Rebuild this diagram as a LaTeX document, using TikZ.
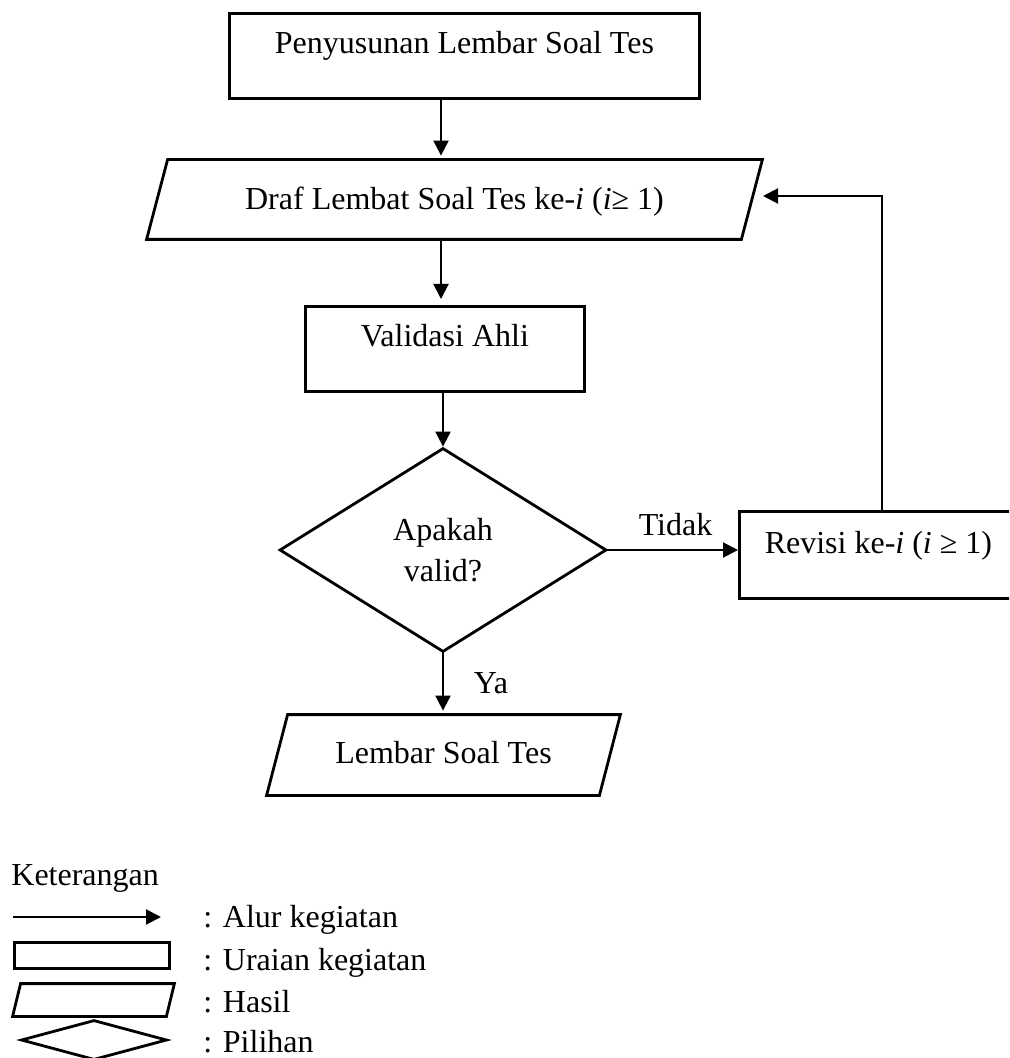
\documentclass[tikz,border=0pt]{standalone}
\usepackage{fontspec}
\setmainfont{Liberation Serif}
\usetikzlibrary{arrows.meta,calc}
\newcommand\parashape[2]{\draw[shapeline] ($(#1.north west)+(#2,0)$) -- (#1.north east) -- ($(#1.south east)-(#2,0)$) -- (#1.south west) -- cycle;}
\newcommand\diashape[1]{\draw[shapeline] (#1.north) -- (#1.east) -- (#1.south) -- (#1.west) -- cycle;}
\begin{document}
\begin{tikzpicture}[x=0.5pt,y=-0.5pt,
  every node/.style={font=\fontsize{16pt}{20.5pt}\selectfont, inner sep=0pt},
  shapeline/.style={draw=black, line width=1.4pt},
  conn/.style={line width=1pt, -{Triangle[length=7.5pt,width=7.5pt]}},
  boxnode/.style={shapeline, anchor=north west, text height=20pt, text depth=22.5pt},
]
\useasboundingbox (0,0) rectangle (1009,1058);
\clip (0,0) rectangle (1009,1058);

% main flow
\node[boxnode, minimum width=235pt] (s1) at (228,12) {Penyusunan Lembar Soal Tes};
\node[minimum width=307.5pt, minimum height=39.5pt, text height=12.5pt, text depth=2pt] (draf) at (454.5,199.5) {Draf Lembat Soal Tes ke-\textit{i} (\textit{i}≥ 1)};
\parashape{draf}{21}
\node[boxnode, minimum width=139.5pt] (val) at (304,305) {Validasi Ahli};
\node[minimum width=162.5pt, minimum height=101pt, align=center] (dec) at (443,550) {Apakah\\valid?};
\diashape{dec}
\node[boxnode, minimum width=139pt, text height=21pt] (rev) at (738,510) {Revisi ke-\textit{i} (\textit{i} ≥ 1)};
\node[minimum width=176.5pt, minimum height=40pt, text height=11pt, text depth=3pt] (hasil) at (443.5,755) {Lembar Soal Tes};
\parashape{hasil}{21}

% connectors
\coordinate (col) at (441,0);
\draw[conn, shorten >=2pt] (s1.south -| col) -- (draf.north -| col);
\draw[conn, shorten >=3pt] (draf.south -| col) -- (val.north -| col);
\draw[conn, shorten >=1pt] (val.south -| dec.north) -- (dec.north);
\draw[conn, shorten >=2pt] (dec.south) -- (hasil.north -| dec.south);
\draw[conn] (dec.east) -- (rev.west |- dec.east);
\coordinate (bk) at (882,196);
\coordinate (back) at (763,196);
\draw[conn] (rev.north -| bk) -- (bk) -- (back);

\node[anchor=base] (tidak) at (675.5,535) {Tidak};
\node[anchor=base] (ya) at (491,693) {Ya};

% legend
\node[anchor=base west] (ket) at (11,885) {Keterangan};
\coordinate (la) at (13,917);
\coordinate (lb) at (161,917);
\draw[conn] (la) -- (lb);
\node[shapeline, anchor=north west, minimum width=77.5pt, minimum height=13pt] (lrect) at (13,941) {};
\node[minimum width=80.5pt, minimum height=16pt] (lpara) at (93.5,1000) {};
\parashape{lpara}{8}
\node[minimum width=72pt, minimum height=19pt] (ldia) at (94,1040) {};
\diashape{ldia}
\node[anchor=base west] (t1) at (203,927) {: Alur kegiatan};
\node[anchor=base west] (t2) at (203,970) {: Uraian kegiatan};
\node[anchor=base west] (t3) at (203,1012) {: Hasil};
\node[anchor=base west] (t4) at (203,1052) {: Pilihan};
\end{tikzpicture}
\end{document}
